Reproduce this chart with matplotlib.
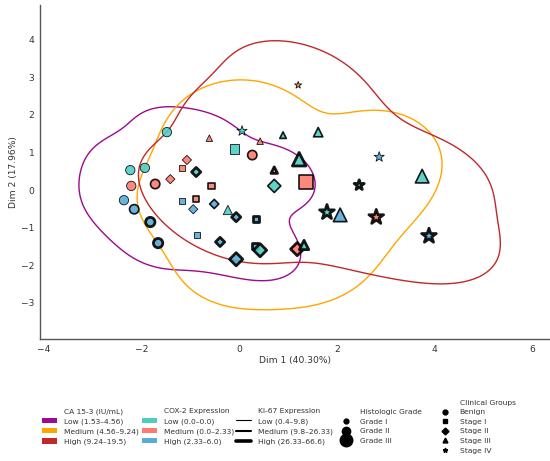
"""Biplot of tumour samples with CA 15-3 density contours."""

import matplotlib
matplotlib.use("Agg")
import matplotlib.pyplot as plt
from matplotlib.lines import Line2D
from matplotlib.patches import Patch
import numpy as np
import pandas as pd
import seaborn as sns

# point coordinates
dim1 = [-1.48, -0.61, 0.06, -0.10, 0.27, -1.07, -1.17, -0.88, -2.23, -1.93,
        -1.41, -2.21, -1.72, -0.57, -1.17, -0.88, -0.94, -0.51, -2.36, -2.15,
        -0.23, -0.06, -1.82, -0.86, -1.66, -0.39, -0.06, 0.72, 1.37, 0.35,
        1.80, 2.07, 0.33, 0.43, 1.19, 1.33, 1.21, 0.43, 0.90, 1.62,
        1.23, 0.72, 2.87, 3.75, 2.46, 2.81, 3.89]
dim2 = [1.54, 1.38, 1.57, 1.09, 0.93, 0.80, 0.59, 0.48, 0.53, 0.59,
        0.29, 0.11, 0.16, 0.11, -0.29, -0.24, -0.51, -0.37, -0.27, -0.51,
        -0.53, -0.72, -0.85, -1.20, -1.41, -1.38, -1.84, 0.11, 0.21, -0.77,
        -0.59, -0.66, -1.49, -1.60, -1.57, -1.46, 2.79, 1.30, 1.46, 1.54,
        0.82, 0.53, 0.88, 0.37, 0.13, -0.72, -1.22]
stage = ["Benign", "Stage III", "Stage IV", "Stage I", "Benign", "Stage II", "Stage I", "Stage II", "Benign", "Benign",
         "Stage II", "Benign", "Benign", "Stage I", "Stage I", "Stage I", "Stage II", "Stage II", "Benign", "Benign",
         "Stage III", "Stage II", "Benign", "Stage I", "Benign", "Stage II", "Stage II", "Stage II", "Stage I", "Stage I",
         "Stage IV", "Stage III", "Stage I", "Stage II", "Stage II", "Stage III", "Stage IV", "Stage III", "Stage III", "Stage III",
         "Stage III", "Stage III", "Stage IV", "Stage III", "Stage IV", "Stage IV", "Stage IV"]
cox2 = ["Low", "Medium", "Low", "Low", "Medium", "Medium", "Medium", "Low", "Low", "Low",
        "Medium", "Medium", "Medium", "Medium", "High", "Medium", "High", "High", "High", "High",
        "Low", "High", "High", "High", "High", "High", "High", "Low", "Medium", "High",
        "Low", "High", "High", "Low", "Medium", "Low", "Medium", "Medium", "Low", "Low",
        "Low", "Medium", "High", "Low", "Low", "Medium", "High"]
grade = ["Grade II", "Grade I", "Grade II", "Grade II", "Grade II", "Grade I", "Grade I", "Grade I", "Grade II", "Grade II",
         "Grade I", "Grade II", "Grade II", "Grade I", "Grade I", "Grade I", "Grade I", "Grade I", "Grade II", "Grade II",
         "Grade II", "Grade I", "Grade II", "Grade I", "Grade II", "Grade I", "Grade II", "Grade II", "Grade III", "Grade I",
         "Grade III", "Grade III", "Grade I", "Grade II", "Grade II", "Grade II", "Grade I", "Grade I", "Grade I", "Grade II",
         "Grade III", "Grade I", "Grade II", "Grade III", "Grade II", "Grade III", "Grade III"]
ki67 = ["Low", "Low", "Low", "Low", "Medium", "Low", "Low", "High", "Low", "Low",
        "Low", "Low", "Medium", "Medium", "Low", "Medium", "Low", "Medium", "Low", "Medium",
        "Low", "High", "High", "Low", "High", "High", "High", "Medium", "Medium", "High",
        "High", "Medium", "High", "High", "High", "High", "Low", "Low", "Medium", "Medium",
        "High", "High", "Low", "Medium", "High", "High", "High"]
ca153 = ["Low", "Low", "Medium", "Medium", "Medium", "Low", "Low", "Low", "Low", "Low",
         "Low", "Low", "Low", "High", "Low", "Medium", "Low", "Low", "Low", "Low",
         "Low", "High", "Low", "Low", "Low", "Low", "Medium", "Low", "High", "Medium",
         "Medium", "High", "Low", "Low", "Medium", "Medium", "High", "High", "High", "High",
         "High", "Low", "Medium", "High", "Medium", "High", "High"]

ca_levels = ["Low", "Medium", "High"]
ca_labels = ["Low (1.53–4.56)", "Medium (4.56–9.24)", "High (9.24–19.5)"]
cox_labels = ["Low (0.0–0.0)", "Medium (0.0–2.33)", "High (2.33–6.0)"]
ki_labels = ["Low (0.4–9.8)", "Medium (9.8–26.33)", "High (26.33–66.6)"]
grade_levels = ["Grade I", "Grade II", "Grade III"]
stage_levels = ["Benign", "Stage I", "Stage II", "Stage III", "Stage IV"]

CA_COLORS = {"Low": "#9B0A8F", "Medium": "#FFA500", "High": "#C0282A"}
COX_COLORS = {"Low": "#4ECDC4", "Medium": "#FF7B6E", "High": "#58ACD6"}
KI_WIDTHS = {"Low": 0.6, "Medium": 1.2, "High": 2.0}
GRADE_SIZES = {"Grade I": 22, "Grade II": 45, "Grade III": 95}
STAGE_MARKERS = {"Benign": "o", "Stage I": "s", "Stage II": "D", "Stage III": "^", "Stage IV": "*"}

df = pd.DataFrame({"dim1": dim1, "dim2": dim2, "stage": stage, "cox2": cox2,
                   "grade": grade, "ki67": ki67, "ca153": ca153})

sns.set_style("white")
plt.rcParams["font.family"] = ["DejaVu Sans"]

fig = plt.figure(figsize=(5.5, 4.61), dpi=100)
ax = fig.add_axes([40 / 550, 122 / 461, 510 / 550, 334 / 461])

for level in ca_levels:
    sub = df[df["ca153"] == level]
    sns.kdeplot(x=sub["dim1"], y=sub["dim2"], levels=[0.06], bw_adjust=1.0,
                color=CA_COLORS[level], linewidths=1.0, ax=ax)

for st in stage_levels:
    sub = df[df["stage"] == st]
    mult = 1.3 if st == "Stage IV" else 1.0
    ax.scatter(sub["dim1"], sub["dim2"], marker=STAGE_MARKERS[st],
               s=[GRADE_SIZES[g] * mult for g in sub["grade"]],
               c=[COX_COLORS[c] for c in sub["cox2"]],
               linewidths=[KI_WIDTHS[k] for k in sub["ki67"]],
               edgecolors="black", alpha=0.9, zorder=3)

ax.set_xlim(-4.08, 6.37)
ax.set_ylim(-3.96, 4.92)
ax.set_xticks([-4, -2, 0, 2, 4, 6])
ax.set_yticks([-3, -2, -1, 0, 1, 2, 3, 4])
ax.tick_params(labelsize=6.6, length=0, pad=4, colors="#333333")
ax.set_xlabel("Dim 1 (40.30%)", fontsize=6.6, color="#333333", labelpad=2)
ax.set_ylabel("Dim 2 (17.96%)", fontsize=6.6, color="#333333", labelpad=2)
for side in ["top", "right"]:
    ax.spines[side].set_visible(False)
for side in ["left", "bottom"]:
    ax.spines[side].set_color("#555555")
    ax.spines[side].set_linewidth(1.0)

blank = Patch(visible=False)
legend_kw = dict(loc="center left", frameon=False, fontsize=5.4, borderpad=0,
                 borderaxespad=0, handlelength=2.0, handletextpad=1.0,
                 labelspacing=0.45, labelcolor="#333333")
legend_y = (461 - 426.5) / 461

ca_handles = [blank] + [Patch(facecolor=CA_COLORS[l], edgecolor="none") for l in ca_levels]
fig.legend(ca_handles, ["CA 15-3 (IU/mL)"] + ca_labels,
           bbox_to_anchor=(42 / 550, legend_y), **legend_kw)

cox_handles = [blank] + [Patch(facecolor=COX_COLORS[l], edgecolor="none") for l in ca_levels]
fig.legend(cox_handles, ["COX-2 Expression"] + cox_labels,
           bbox_to_anchor=(142 / 550, legend_y), **legend_kw)

ki_handles = [blank] + [Line2D([], [], color="black", lw=w) for w in [0.8, 1.5, 2.6]]
fig.legend(ki_handles, ["Ki-67 Expression"] + ki_labels,
           bbox_to_anchor=(236 / 550, legend_y), **legend_kw)

grade_handles = [blank] + [Line2D([], [], marker="o", color="black", ls="none", markersize=m)
                           for m in [3.5, 6.0, 9.0]]
fig.legend(grade_handles, ["Histologic Grade"] + grade_levels,
           bbox_to_anchor=(338 / 550, legend_y), **legend_kw)

stage_handles = [blank] + [Line2D([], [], marker=STAGE_MARKERS[s], color="black", ls="none",
                                  markersize=3.5) for s in stage_levels]
fig.legend(stage_handles, ["Clinical Groups"] + stage_levels,
           bbox_to_anchor=(437 / 550, legend_y), **legend_kw)

fig.savefig("out.png", dpi=100)
